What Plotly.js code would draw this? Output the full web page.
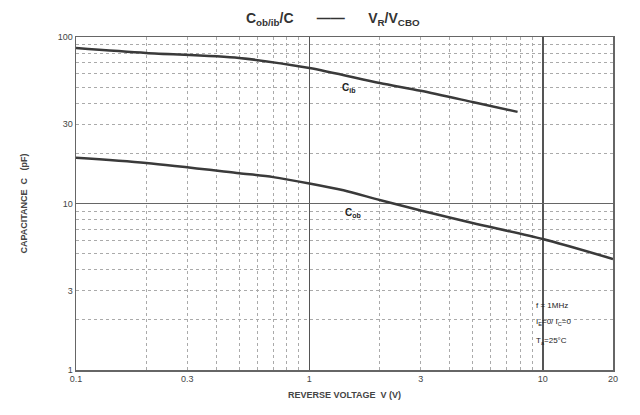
<!DOCTYPE html>
<html>
<head>
<meta charset="utf-8">
<script src="https://cdn.plot.ly/plotly-3.0.1.min.js"></script>
<style>html,body{margin:0;padding:0;background:#fff;}#chart{width:640px;height:415px;}</style>
</head>
<body>
<div id="chart"></div>
<script>
// Reverse voltage (V) and capacitance (pF)
const vCib = [0.1, 0.2, 0.5, 1, 2, 3, 5, 7.8];
const cCib = [85.9, 80.2, 74.8, 65.1, 52.9, 47.5, 40.7, 35.5];
const vCob = [0.1, 0.2, 0.5, 0.7, 1, 1.4, 2, 3, 5, 10, 20];
const cCob = [18.8, 17.5, 15.2, 14.4, 13.2, 12.0, 10.5, 9.08, 7.63, 6.12, 4.64];

const xTickVals = [0.1, 0.3, 1, 3, 10, 20];
const xTickText = ['0.1', '0.3', '1', '3', '10', '20'];
const yTickVals = [1, 3, 10, 30, 100];
const yTickText = ['1', '3', '10', '30', '100'];
const xMinor = [0.2,0.3,0.4,0.5,0.6,0.7,0.8,0.9,2,3,4,5,6,7,8,9];
const yMinor = [2,3,4,5,6,7,8,9,20,30,40,50,60,70,80,90];
const xMajor = [1, 10];
const yMajor = [10];

const lineStyle = {color: '#3a3a3a', width: 2.5, shape: 'spline', smoothing: 0.8};
const traces = [
  {x: vCib, y: cCib, mode: 'lines', line: lineStyle, name: 'Cib', hoverinfo: 'skip'},
  {x: vCob, y: cCob, mode: 'lines', line: lineStyle, name: 'Cob', hoverinfo: 'skip'},
  // invisible trace to activate overlay axes for major grid lines
  {x: [0.1, 20], y: [1, 100], xaxis: 'x2', yaxis: 'y2', mode: 'markers', marker: {opacity: 0}, hoverinfo: 'skip'}
];

const tickFont = {family: 'Liberation Sans, Arial, sans-serif', size: 9, color: '#444'};
const layout = {
  width: 640, height: 415,
  margin: {l: 76, r: 27, t: 37, b: 45},
  paper_bgcolor: '#fff', plot_bgcolor: '#fff',
  showlegend: false,
  title: {
    text: '<b>C<sub>ob/ib</sub>/C      ——      V<sub>R</sub>/V<sub>CBO</sub></b>',
    font: {family: 'Liberation Sans, Arial, sans-serif', size: 14, color: '#333'},
    x: 0.52, xanchor: 'center', y: 0.957, yanchor: 'middle'
  },
  xaxis: {
    type: 'log', range: [Math.log10(0.1), Math.log10(20)],
    tickvals: xTickVals, ticktext: xTickText, tickfont: tickFont,
    showgrid: false, zeroline: false, ticks: '', ticklen: 0,
    showline: true, linecolor: '#666', linewidth: 1.5, mirror: true,
    minor: {tickvals: xMinor, showgrid: true, gridcolor: '#aaa', gridwidth: 1, griddash: 'dot', ticks: ''},
    title: {text: '<b>REVERSE VOLTAGE  V (V)</b>', font: {family: 'Liberation Sans, Arial, sans-serif', size: 9, color: '#444'}, standoff: 8}
  },
  yaxis: {
    type: 'log', range: [0, 2],
    tickvals: yTickVals, ticktext: yTickText, tickfont: tickFont,
    showgrid: false, zeroline: false, ticks: '',
    showline: true, linecolor: '#666', linewidth: 1.5, mirror: true,
    minor: {tickvals: yMinor, showgrid: true, gridcolor: '#aaa', gridwidth: 1, griddash: 'dot', ticks: ''},
    title: {text: '<b>CAPACITANCE  C   (pF)</b>', font: {family: 'Liberation Sans, Arial, sans-serif', size: 9, color: '#444'}, standoff: 28}
  },
  xaxis2: {
    type: 'log', range: [Math.log10(0.1), Math.log10(20)], overlaying: 'x',
    tickvals: xMajor, showticklabels: false, showgrid: true, gridcolor: '#555', gridwidth: 1.5,
    zeroline: false, showline: false, ticks: ''
  },
  yaxis2: {
    type: 'log', range: [0, 2], overlaying: 'y',
    tickvals: yMajor, showticklabels: false, showgrid: true, gridcolor: '#666', gridwidth: 1.5,
    zeroline: false, showline: false, ticks: ''
  },
  annotations: [
    {x: Math.log10(1.35), y: Math.log10(49.4), xref: 'x', yref: 'y', text: '<b>C<sub>ib</sub></b>', showarrow: false, xanchor: 'left', font: {family: 'Liberation Sans, Arial, sans-serif', size: 10, color: '#222'}},
    {x: Math.log10(1.39), y: Math.log10(8.8), xref: 'x', yref: 'y', text: '<b>C<sub>ob</sub></b>', showarrow: false, xanchor: 'left', font: {family: 'Liberation Sans, Arial, sans-serif', size: 10, color: '#222'}},
    {x: 0.853, y: 0.175, xref: 'paper', yref: 'paper', text: 'f = 1MHz', showarrow: false, xanchor: 'left', font: {family: 'Liberation Sans, Arial, sans-serif', size: 8, color: '#222'}},
    {x: 0.853, y: 0.122, xref: 'paper', yref: 'paper', text: 'I<sub>E</sub>=0/ I<sub>C</sub>=0', showarrow: false, xanchor: 'left', font: {family: 'Liberation Sans, Arial, sans-serif', size: 8, color: '#222'}},
    {x: 0.853, y: 0.065, xref: 'paper', yref: 'paper', text: 'T<sub>a</sub>=25°C', showarrow: false, xanchor: 'left', font: {family: 'Liberation Sans, Arial, sans-serif', size: 8, color: '#222'}}
  ]
};

Plotly.newPlot('chart', traces, layout, {staticPlot: true, displayModeBar: false});
</script>
</body>
</html>
